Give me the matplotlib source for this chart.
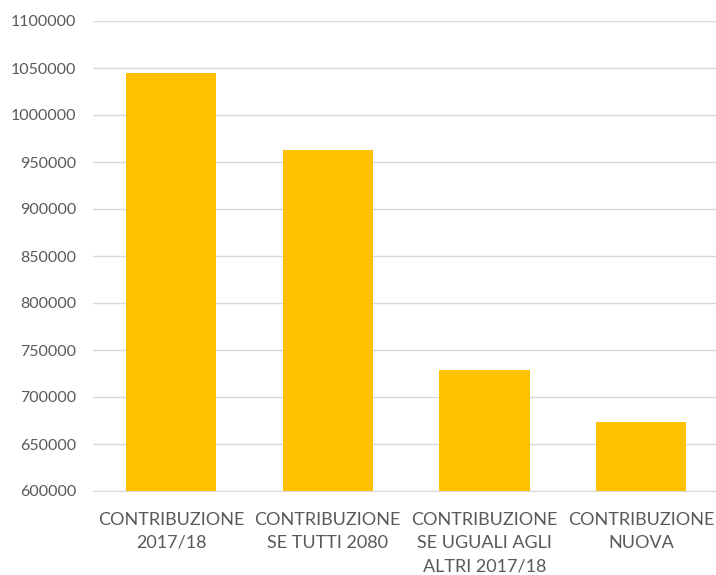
import matplotlib
matplotlib.use('Agg')
import matplotlib.pyplot as plt

# contribution scenarios
categories = ['CONTRIBUZIONE\n2017/18', 'CONTRIBUZIONE\nSE TUTTI 2080',
              'CONTRIBUZIONE\nSE UGUALI AGLI\nALTRI 2017/18', 'CONTRIBUZIONE\nNUOVA']
values = [1045000, 963000, 729000, 673000]
yticks = list(range(600000, 1100001, 50000))

plt.rcParams['font.family'] = ['Lato', 'DejaVu Sans']
txt = '#595959'

fig = plt.figure(figsize=(7.16, 5.75), dpi=100)
ax = fig.add_axes([92.7 / 716, 1 - 491 / 575, 1 - 92.7 / 716, 470 / 575])

ax.bar(range(len(values)), values, width=0.575, color='#FFC000', zorder=3)

ax.set_ylim(600000, 1100000)
ax.set_xlim(-0.5, 3.5 - 3.5 / 156.7)
ax.set_yticks(yticks)
ax.set_yticklabels([str(t) for t in yticks], fontsize=11.5, color=txt)
ax.set_xticks(range(len(categories)))
ax.set_xticklabels(categories, fontsize=13, color=txt, linespacing=1.55)
ax.tick_params(axis='both', length=0)
ax.tick_params(axis='y', pad=12)
ax.tick_params(axis='x', pad=15)

ax.grid(axis='y', color='#D9D9D9', linewidth=1, zorder=0)
for s in ['top', 'right', 'left']:
    ax.spines[s].set_visible(False)
ax.spines['bottom'].set_color('#D9D9D9')
ax.spines['bottom'].set_zorder(4)

fig.savefig('out.png', dpi=100)
